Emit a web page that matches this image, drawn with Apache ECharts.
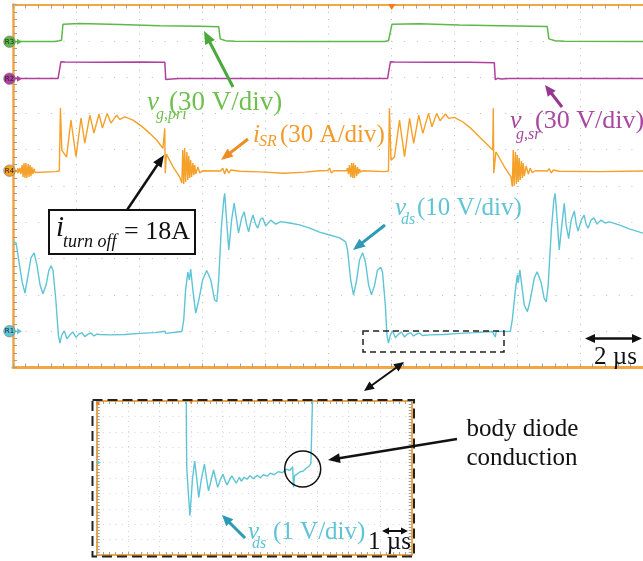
<!DOCTYPE html>
<html>
<head>
<meta charset="utf-8">
<script src="https://cdn.jsdelivr.net/npm/echarts@6/dist/echarts.min.js"></script>
<style>
html,body{margin:0;padding:0;background:#fff;}
#chart{width:643px;height:561px;}
</style>
</head>
<body>
<div id="chart"></div>
<script>
// ---- Scope traces: time in µs, values in the channel's own unit ----

// v_g,pri (V)
const vgPri = [[0,0],[1.33,0],[1.46,0.6],[1.54,1.0],[1.585,14.2],[1.63,15.2],[2.12,14.8],[3.39,14.0],[4.66,13.1],[5.93,12.6],[6.53,12.3],[6.58,2.2],[6.63,1.2],[6.75,0.7],[7.04,0.2],[9.10,0],[11.79,0],[11.92,0.6],[11.98,1.0],[12.03,14.2],[12.08,15.2],[12.90,14.6],[14.17,13.6],[15.44,13.0],[16.96,12.4],[17.01,2.2],[17.06,1.2],[17.21,0.7],[17.50,0.2],[20,0]];

// v_g,sr (V)
const vgSr = [[0,0],[1.43,0],[1.49,0.6],[1.52,13.8],[1.57,14.8],[1.65,13.6],[2.76,13.4],[4.03,13.6],[4.82,13.4],[4.85,-0.7],[4.91,0.2],[5.04,-0.3],[5.29,0],[11.89,0],[11.95,0.6],[11.98,13.8],[12.03,14.8],[12.11,13.6],[13.22,13.4],[14.49,13.5],[15.28,13.1],[15.31,-0.9],[15.38,0.2],[15.50,-0.3],[15.76,0],[20,0]];

// i_SR (A)
const iSR = [[0,0],[0.16,0],[0.22,2.2],[0.25,-2.7],[0.29,4.7],[0.32,-5.2],[0.35,6.4],[0.38,-6.0],[0.41,6.4],[0.44,-6.0],[0.48,5.5],[0.51,-5.2],[0.54,4.7],[0.57,-4.4],[0.60,3.1],[0.63,-2.7],[0.67,1.8],[0.70,-1.5],[0.76,0],[1.36,-0.7],[1.47,-0.2],[1.506,51.8],[1.55,17.1],[1.70,11.3],[1.84,41.9],[2.00,11.6],[2.16,43.6],[2.28,22.9],[2.44,46.0],[2.57,31.2],[2.73,46.9],[2.84,35.3],[2.99,47.4],[3.11,39.4],[3.29,46.0],[3.39,42.5],[3.55,44.6],[3.81,41.9],[4.08,36.9],[4.34,30.9],[4.56,25.4],[4.76,18.5],[4.80,17.1],[4.818,35.0],[4.834,-2.1],[4.87,13.8],[5.08,3.3],[5.29,-5.0],[5.36,-10.2],[5.39,17.1],[5.42,-11.0],[5.45,18.8],[5.48,-9.3],[5.52,15.5],[5.55,-7.7],[5.58,12.1],[5.61,-6.0],[5.64,8.8],[5.67,-5.2],[5.71,6.4],[5.74,-3.6],[5.77,4.7],[5.80,-2.7],[5.87,3.1],[5.93,-1.9],[6.02,0],[6.59,-0.2],[6.66,2.2],[6.72,-2.7],[6.78,1.8],[6.85,-1.9],[6.91,0.6],[7.20,-0.4],[7.83,-0.9],[8.62,-2.1],[9.26,-1.1],[9.73,0],[9.99,0.2],[10.05,2.2],[10.11,-1.9],[10.18,0],[10.59,0],[10.62,2.2],[10.65,-2.7],[10.68,4.7],[10.72,-5.2],[10.75,6.4],[10.78,-6.0],[10.81,6.4],[10.84,-6.0],[10.87,4.7],[10.91,-4.4],[10.94,3.1],[10.97,-2.7],[11.00,1.4],[11.03,-1.1],[11.10,0],[11.79,-0.7],[11.92,-0.2],[11.95,51.6],[12.00,8.8],[12.11,11.3],[12.27,41.9],[12.43,11.6],[12.59,43.3],[12.72,22.6],[12.88,46.0],[13.01,30.9],[13.19,47.4],[13.30,36.4],[13.45,47.4],[13.56,41.3],[13.73,46.9],[13.83,43.3],[14.01,44.1],[14.27,40.5],[14.54,35.0],[14.80,28.1],[15.07,21.2],[15.23,17.1],[15.247,51.6],[15.263,-2.1],[15.33,15.7],[15.60,3.3],[15.81,-5.0],[15.85,-13.2],[15.88,17.1],[15.91,-12.6],[15.95,15.5],[15.98,-11.0],[16.01,13.0],[16.04,-9.3],[16.07,10.5],[16.10,-7.7],[16.14,8.0],[16.17,-6.0],[16.20,6.4],[16.23,-4.4],[16.29,3.9],[16.36,-2.7],[16.42,2.2],[16.48,-1.5],[16.58,0],[16.96,-0.2],[17.02,1.8],[17.09,-1.9],[17.15,0.6],[17.34,-0.4],[18.61,-0.7],[20,-0.2]];

// v_ds (V)
const vds = [[0,24.7],[0.10,24.3],[0.19,19.1],[0.29,13.6],[0.38,10.5],[0.48,15.5],[0.57,20.2],[0.67,21.6],[0.76,18.2],[0.86,12.7],[0.95,10.3],[1.05,12.7],[1.14,16.8],[1.21,18.0],[1.27,16.8],[1.36,8.6],[1.44,-1.0],[1.49,-3.3],[1.55,-1.0],[1.63,0.1],[1.71,-2.1],[1.81,-1.0],[1.90,-0.2],[2.00,-1.7],[2.09,-0.8],[2.19,-0.4],[2.28,-1.5],[2.38,-0.8],[2.47,-0.5],[2.57,-1.3],[2.66,-0.8],[2.76,-0.9],[3.08,-1.0],[3.55,-0.9],[4.03,-0.6],[4.50,-0.4],[4.82,0],[4.85,-0.6],[4.91,-0.1],[5.36,-0.1],[5.42,3.1],[5.48,11.4],[5.55,16.3],[5.60,14.1],[5.64,17.1],[5.71,11.4],[5.80,5.0],[5.90,8.6],[6.02,14.1],[6.15,16.7],[6.28,14.1],[6.40,8.6],[6.47,8.1],[6.53,14.1],[6.61,27.9],[6.69,36.2],[6.72,38.0],[6.78,30.6],[6.85,22.4],[6.94,30.6],[7.02,35.3],[7.10,30.6],[7.16,27.1],[7.26,31.2],[7.34,32.9],[7.42,29.3],[7.48,27.4],[7.55,30.1],[7.62,32.0],[7.70,29.5],[7.77,28.4],[7.86,30.9],[7.93,31.2],[8.02,29.0],[8.18,30.6],[8.34,29.5],[8.50,30.2],[8.78,29.8],[9.10,29.3],[9.42,28.4],[9.73,27.3],[10.05,26.5],[10.37,25.7],[10.56,24.6],[10.62,22.4],[10.72,14.1],[10.81,10.0],[10.91,14.1],[11.00,19.6],[11.10,21.6],[11.19,19.0],[11.29,12.7],[11.38,10.0],[11.48,12.7],[11.57,16.8],[11.67,17.6],[11.73,16.3],[11.82,7.2],[11.87,-1.0],[11.92,-3.3],[11.98,-1.0],[12.05,0.1],[12.14,-1.8],[12.24,-0.8],[12.33,-0.2],[12.43,-1.6],[12.52,-0.8],[12.62,-0.4],[12.71,-1.3],[12.81,-0.8],[12.90,-0.5],[13.00,-1.2],[13.22,-1.0],[13.69,-0.9],[14.17,-0.6],[14.65,-0.4],[15.22,-0.1],[15.28,0.1],[15.31,-1.6],[15.34,-0.1],[15.79,0],[15.85,3.1],[15.95,11.4],[16.01,15.5],[16.04,13.3],[16.09,16.9],[16.17,11.4],[16.23,7.2],[16.33,5.4],[16.42,8.6],[16.55,14.7],[16.64,16.4],[16.77,13.3],[16.86,9.1],[16.93,8.1],[16.99,12.7],[17.09,27.9],[17.17,36.2],[17.21,38.0],[17.28,30.1],[17.34,22.4],[17.44,30.6],[17.50,35.2],[17.56,29.3],[17.64,25.5],[17.72,30.6],[17.82,33.1],[17.88,29.5],[17.94,27.6],[18.04,30.6],[18.13,32.0],[18.20,29.3],[18.26,28.4],[18.35,30.6],[18.45,31.2],[18.54,29.5],[18.67,30.6],[18.80,29.8],[18.93,30.1],[19.24,29.3],[19.56,28.2],[20,27.0]];

// v_ds zoomed on the SR conduction interval (V, 1 V/div, 1 µs/div)
const vdsZoom = [[2.78,30],[2.85,1.5],[2.86,-0.4],[2.91,-2.0],[2.96,-3.45],[3.04,-1.1],[3.11,0.1],[3.18,-1.1],[3.24,-2.26],[3.32,-1.1],[3.42,-0.1],[3.48,-0.95],[3.55,-1.83],[3.64,-1.08],[3.71,-0.48],[3.78,-1.08],[3.84,-1.61],[3.92,-1.14],[4.01,-0.75],[4.07,-1.14],[4.14,-1.46],[4.21,-1.14],[4.29,-0.86],[4.37,-1.14],[4.43,-1.34],[4.53,-0.95],[4.59,-1.21],[4.68,-0.95],[4.77,-1.08],[4.87,-0.85],[4.97,-1.05],[5.10,-0.82],[5.19,-0.98],[5.29,-0.79],[5.41,-0.88],[5.51,-0.69],[5.63,-0.79],[5.76,-0.59],[5.89,-0.66],[6.01,-0.43],[6.14,-0.50],[6.22,-0.27],[6.25,-1.61],[6.28,-0.86],[6.36,-0.75],[6.46,-0.59],[6.55,-0.56],[6.65,-0.37],[6.74,-0.24],[6.80,-0.05],[6.85,4.02],[6.87,30]];

// channel settings: units per division and marker level (divisions from bottom)
const channels = {
  R1: {perDiv: 10, level: 1.0,  color: '#5ec4d6'},   // v_ds
  R4: {perDiv: 30, level: 5.42, color: '#f5a029'},   // i_SR
  R2: {perDiv: 30, level: 7.96, color: '#b0409f'},   // v_g,sr
  R3: {perDiv: 30, level: 8.98, color: '#5cb947'}    // v_g,pri
};

const FRAME = '#f4a640';
const TICK = '#a0a0a0';
const SERIF = '"Liberation Serif", "Times New Roman", serif';

function chanAxis(ch) {
  const c = channels[ch];
  return {gridIndex: 0, type: 'value', show: false,
          min: -c.level * c.perDiv, max: (10 - c.level) * c.perDiv};
}

function frameX(gridIndex, pos, lw, dots, dotColor, max, step, tickLen) {
  return {
    gridIndex, type: 'value', position: pos, min: 0, max, interval: step,
    axisLine: {show: true, onZero: false, lineStyle: {color: FRAME, width: lw}},
    axisTick: {show: true, inside: true, length: tickLen, lineStyle: {color: TICK}},
    minorTick: {show: true, splitNumber: 5, length: tickLen, lineStyle: {color: TICK}},
    axisLabel: {show: false},
    splitLine: {show: dots != null, lineStyle: {color: dotColor, width: 1, type: dots || 'solid'}},
    minorSplitLine: {show: false}
  };
}
function frameY(gridIndex, pos, lw, dots, dotColor, min, max, tickLen) {
  return {
    gridIndex, type: 'value', position: pos, min, max, interval: 1,
    axisLine: {show: true, onZero: false, lineStyle: {color: FRAME, width: lw}},
    axisTick: {show: true, inside: true, length: tickLen, lineStyle: {color: TICK}},
    minorTick: {show: true, splitNumber: 5, length: tickLen, lineStyle: {color: TICK}},
    axisLabel: {show: false},
    splitLine: {show: dots != null, lineStyle: {color: dotColor, width: 1, type: dots || 'solid'}},
    minorSplitLine: {show: false}
  };
}

function trace(data, color, xi, yi, w) {
  return {type: 'line', data, xAxisIndex: xi, yAxisIndex: yi,
          symbol: 'none', showSymbol: false, clip: true, silent: true,
          lineStyle: {color, width: w}, emphasis: {disabled: true}};
}

// ---- annotation helpers ----
function txt(x, y, s, size, color, italic) {
  return {type: 'text', x, y, z: 100, silent: true,
          style: {text: s, font: (italic ? 'italic ' : '') + size + 'px ' + SERIF,
                  fill: color, align: 'left', verticalAlign: 'middle'}};
}
function arrow(x1, y1, x2, y2, color, w, hl, hw, both) {
  const dx = x2 - x1, dy = y2 - y1, L = Math.hypot(dx, dy), ux = dx / L, uy = dy / L;
  const head = (px, py, vx, vy) => ({
    type: 'polygon', z: 101, silent: true,
    shape: {points: [[px, py],
      [px - vx * hl - vy * hw / 2, py - vy * hl + vx * hw / 2],
      [px - vx * hl + vy * hw / 2, py - vy * hl - vx * hw / 2]]},
    style: {fill: color}
  });
  const els = [{
    type: 'line', z: 100, silent: true,
    shape: {x1: both ? x1 + ux * hl * 0.8 : x1, y1: both ? y1 + uy * hl * 0.8 : y1,
            x2: x2 - ux * hl * 0.8, y2: y2 - uy * hl * 0.8},
    style: {stroke: color, lineWidth: w}
  }, head(x2, y2, ux, uy)];
  if (both) els.push(head(x1, y1, -ux, -uy));
  return els;
}
function marker(name, y) {
  const c = channels[name].color;
  return [
    {type: 'line', z: 99, silent: true, shape: {x1: 13, y1: y, x2: 18, y2: y}, style: {stroke: c, lineWidth: 1.2}},
    {type: 'polygon', z: 99, silent: true, shape: {points: [[17, y - 3], [22, y], [17, y + 3]]}, style: {fill: c}},
    {type: 'circle', z: 100, silent: true, shape: {cx: 9.5, cy: y, r: 5.8}, style: {fill: c, stroke: '#777', lineWidth: 0.6}},
    {type: 'text', z: 101, silent: true, x: 9.5, y: y,
     style: {text: name, font: '7px "DejaVu Sans", sans-serif', fill: '#222', align: 'center', verticalAlign: 'middle'}}
  ];
}

const green = '#6fbf4f', orange = '#f29b2b', magenta = '#a8479f', cyan = '#5fc4d4';

const graphics = [].concat(
  marker('R3', 41.7), marker('R2', 78.7), marker('R4', 170.7), marker('R1', 331.2),
  [{type: 'polygon', z: 99, silent: true, shape: {points: [[388, 4], [395.5, 4], [391.7, 10]]}, style: {fill: '#f07f1a'}}],
  // v_g,pri
  [txt(147, 102.5, 'v', 27, green, true), txt(156, 115, 'g,pri', 16, green, true), txt(169, 102.5, '(30 V/div)', 27, green, false)],
  arrow(233, 87, 204, 31, '#4aa83c', 3, 13, 11),
  // i_SR
  [txt(253, 135, 'i', 25, orange, true), txt(259, 142, 'SR', 16, orange, true), txt(280, 135, '(30 A/div)', 25, orange, false)],
  arrow(248, 139, 221, 160, '#ee8c24', 3, 12, 10),
  // v_g,sr
  [txt(510, 121.5, 'v', 26, magenta, true), txt(516, 135, 'g,sr', 16, magenta, true), txt(535, 121.5, '(30 V/div)', 26, magenta, false)],
  arrow(562, 107, 545, 85, '#97378f', 3, 11, 10),
  // v_ds
  [txt(395, 208.5, 'v', 25, cyan, true), txt(401, 220, 'ds', 16, cyan, true), txt(417, 208.5, '(10 V/div)', 25, cyan, false)],
  arrow(385, 225, 353, 250, '#2c9ab5', 3, 12, 10),
  // turn-off current box
  [{type: 'rect', z: 100, silent: true, shape: {x: 49, y: 210, width: 146, height: 44}, style: {fill: '#fff', stroke: '#111', lineWidth: 2}},
   txt(56, 228, 'i', 29, '#111', true), txt(63, 242, 'turn off', 18, '#111', true), txt(124, 232, '= 18A', 26, '#111', false)],
  arrow(127, 210, 164, 155, '#111', 2.5, 12, 10),
  // time scale
  arrow(585, 338.5, 642, 338.5, '#111', 2.5, 10, 9, true),
  [txt(594, 357, '2 µs', 25, '#111', false)],
  // zoom window and link
  [{type: 'rect', z: 100, silent: true, shape: {x: 363, y: 331, width: 141, height: 21}, style: {fill: 'none', stroke: '#222', lineWidth: 1.5, lineDash: [6, 4]}}],
  arrow(404, 362, 364, 391, '#111', 2, 10, 9, true),
  [{type: 'rect', z: 100, silent: true, shape: {x: 92.5, y: 400, width: 321.5, height: 156.5}, style: {fill: 'none', stroke: '#222', lineWidth: 2, lineDash: [10, 5]}},
   {type: 'polygon', z: 99, silent: true, shape: {points: [[97, 460.5], [101, 462.6], [97, 464.7]]}, style: {fill: cyan}},
   {type: 'polygon', z: 99, silent: true, shape: {points: [[189, 401], [193, 401], [191, 404]]}, style: {fill: '#f07f1a'}},
   {type: 'rect', z: 99, silent: true, shape: {x: 96.5, y: 402, width: 3, height: 3}, style: {fill: '#f07f1a'}}],
  // inset annotations
  [txt(248, 532, 'v', 25, cyan, true), txt(252, 544, 'ds', 16, cyan, true), txt(273, 532, '(1 V/div)', 25, cyan, false)],
  arrow(245, 538, 222, 515, '#2c9ab5', 3, 11, 10),
  arrow(382, 531, 408, 531, '#111', 2, 7, 7, true),
  [txt(368, 542, '1 µs', 25, '#111', false)],
  [{type: 'circle', z: 100, silent: true, shape: {cx: 302.7, cy: 469, r: 18}, style: {fill: 'none', stroke: '#111', lineWidth: 1.5}}],
  arrow(457, 439, 328, 460, '#111', 2.5, 12, 10),
  [txt(466.5, 429, 'body diode', 25, '#111', false), txt(466.5, 458.5, 'conduction', 25, '#111', false)]
);

const chart = echarts.init(document.getElementById('chart'), null, {renderer: 'canvas'});
chart.setOption({
  animation: false,
  backgroundColor: '#fff',
  grid: [
    {left: 13, top: 4.5, width: 631, height: 363, show: false},
    {left: 96.7, top: 401, width: 315, height: 154, show: false}
  ],
  xAxis: [
    frameX(0, 'bottom', 3, [1, 6.26], '#bdbdbd', 20, 2, 4),
    frameX(0, 'top', 2, null, null, 20, 2, 4),
    frameX(1, 'bottom', 2, [1, 4], '#d6d6d6', 10, 1, 3),
    frameX(1, 'top', 2, null, null, 10, 1, 3)
  ],
  yAxis: [
    frameY(0, 'left', 2.5, [1, 11.62], '#bdbdbd', 0, 10, 4),
    chanAxis('R1'), chanAxis('R4'), chanAxis('R2'), chanAxis('R3'),
    frameY(1, 'left', 2, [1, 5.3], '#d6d6d6', -6, 4, 3),
    frameY(1, 'right', 2, null, null, -6, 4, 3)
  ],
  series: [
    trace(vds, channels.R1.color, 0, 1, 1.4),
    trace(vgSr, channels.R2.color, 0, 3, 1.5),
    trace(vgPri, channels.R3.color, 0, 4, 1.5),
    trace(iSR, channels.R4.color, 0, 2, 1.4),
    trace(vdsZoom, channels.R1.color, 2, 5, 1.4)
  ],
  graphic: graphics
});
</script>
</body>
</html>
